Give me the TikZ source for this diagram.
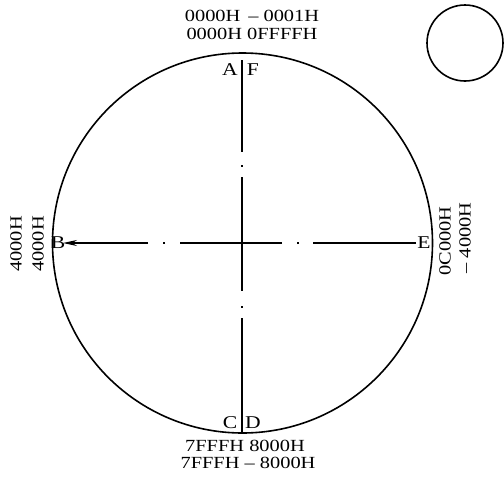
\documentclass[tikz,border=0pt]{standalone}
\usepackage{fontspec}
\setmainfont{Liberation Serif}[FakeStretch=1.2]
\usetikzlibrary{arrows.meta}
\begin{document}
\begin{tikzpicture}[x=1pt,y=-1pt,
  lbl/.style={inner sep=0pt,font=\fontsize{18}{18}\selectfont},
  addr/.style={inner sep=0pt,font=\fontsize{17}{17}\selectfont},
  ring/.style={draw,line width=1.6pt},
  axis/.style={line width=1.1pt}]
\useasboundingbox (0,0) rectangle (504,480);
% circles
\node[ring,circle,minimum size=380pt,inner sep=0pt] (main) at (242.5,243) {};
\node[ring,circle,minimum size=76pt,inner sep=0pt] (small) at (465,43) {};
% endpoints of axes
\coordinate (top) at (242,60);
\coordinate (bot) at (242,434);
\coordinate (left) at (63,243);
\coordinate (right) at (416,243);
% letters
\node[lbl] (A) at (230,70) {A};
\node[lbl] (F) at (253,70) {F};
\node[lbl] (C) at (230,423) {C};
\node[lbl] (D) at (253,423) {D};
\node[lbl] (B) at (58,243) {B};
\node[lbl] (E) at (424,243) {E};
% axes
\draw[axis,dash pattern=on 92pt off 13pt on 2pt off 10pt on 114pt off 15pt on 2pt off 10pt on 200pt] (top) -- (bot);
\draw[axis,dash pattern=on 103pt off 14pt on 2pt off 15pt on 102pt off 15pt on 2pt off 15pt on 200pt,
  -{Stealth[length=14pt,width=6pt]}] (right) -- (left);
% address labels
\node[addr] (t1) at (252,16) {0000H \,– 0001H};
\node[addr] (t2) at (252,34) {0000H 0FFFFH};
\node[addr] (b1) at (245,446) {7FFFH 8000H};
\node[addr] (b2) at (248,463) {7FFFH – 8000H};
\node[addr,rotate=90] (l1) at (16,244) {4000H};
\node[addr,rotate=90] (l2) at (38,244) {4000H};
\node[addr,rotate=90] (r1) at (445,241) {0C000H};
\node[addr,rotate=90] (r2) at (465,238) {– 4000H};
\end{tikzpicture}
\end{document}
